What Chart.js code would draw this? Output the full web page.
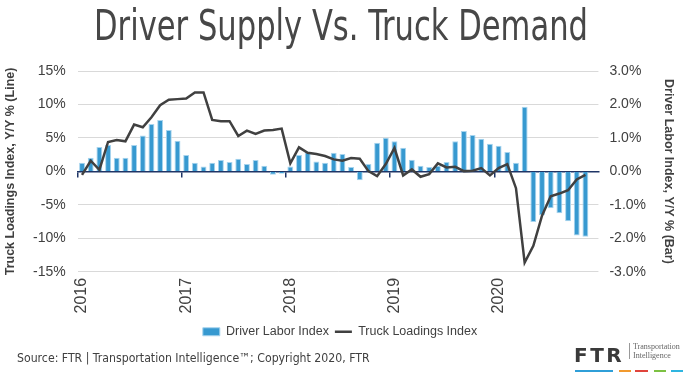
<!DOCTYPE html>
<html>
<head>
<meta charset="utf-8">
<script src="https://cdn.jsdelivr.net/npm/chart.js@4.4.0/dist/chart.umd.min.js"></script>
<style>
  html, body { margin: 0; padding: 0; background: #fff; }
  #wrap { position: relative; width: 688px; height: 375px; }
  #title { position: absolute; left: 0; top: 5px; width: 682px; text-align: center; font: 42px/42px "DejaVu Sans Condensed", "DejaVu Sans", sans-serif; color: #474747; transform: scaleX(0.81); transform-origin: 341px 0; white-space: nowrap; }
  #footer { position: absolute; left: 17px; top: 350px; font: 12.2px/16px "DejaVu Sans Condensed", "DejaVu Sans", sans-serif; color: #404040; white-space: nowrap; }
  #logo { position: absolute; left: 574px; top: 341px; width: 112px; height: 34px; }
  #logo .ftr { position: absolute; left: 0; top: 2px; font: bold 20px "DejaVu Sans", sans-serif; letter-spacing: 2.5px; color: #3a3a3a; }
  #logo .bar { position: absolute; left: 55px; top: 2px; width: 1px; height: 16px; background: #999; }
  #logo .tag { position: absolute; left: 59px; top: 1px; font: 8px/9px "Liberation Serif", serif; color: #666; }
  #logo .u { position: absolute; top: 29px; height: 2px; }
</style>
</head>
<body>
<div id="wrap">
  <canvas id="chart" width="688" height="375"></canvas>
  <div id="title">Driver Supply Vs. Truck Demand</div>
  <div id="footer">Source: FTR | Transportation Intelligence™; Copyright 2020, FTR</div>
  <div id="logo">
    <div class="ftr">FTR</div>
    <div class="bar"></div>
    <div class="tag">Transportation<br>Intelligence</div>
    <div class="u" style="left:1px;width:38px;background:#2f9fd8"></div>
    <div class="u" style="left:45px;width:12px;background:#f29a2e"></div>
    <div class="u" style="left:61px;width:13px;background:#e0443c"></div>
    <div class="u" style="left:80px;width:12px;background:#7cc142"></div>
    <div class="u" style="left:97px;width:12px;background:#2fb5e0"></div>
  </div>
</div>
<script>
const years = ['2016', '2017', '2018', '2019', '2020'];
const monthsPerYear = 12;

// Truck Loadings Index, Y/Y % (line, left axis), Jan 2016 - Nov 2020
const truckLoadings = [
  -0.5, 1.6, 0.25, 4.4, 4.7, 4.5, 7.0, 6.6, 8.1, 9.9, 10.7, 10.8,
  10.9, 11.8, 11.8, 7.7, 7.5, 7.5, 5.3, 6.1, 5.6, 6.1, 6.2, 6.4,
  1.2, 3.6, 2.8, 2.6, 2.3, 1.8, 1.6, 2.0, 1.9, 0.05, -0.7, 1.1,
  3.5, -0.6, 0.3, -0.8, -0.4, 1.2, 0.6, 0.7, 0.05, 0.1, 0.5, -0.6,
  0.5, 1.1, -2.5, -13.6, -11.1, -6.6, -3.7, -3.3, -2.8, -1.2, -0.5
];

// Driver Labor Index, Y/Y % (bar, right axis), Jan 2016 - Nov 2020
const driverLabor = [
  0.26, 0.41, 0.73, 0.79, 0.41, 0.41, 0.79, 1.07, 1.42, 1.54, 1.24, 0.92,
  0.49, 0.26, 0.15, 0.26, 0.34, 0.28, 0.38, 0.22, 0.34, 0.17, -0.10, -0.07,
  0.15, 0.49, 0.57, 0.30, 0.26, 0.56, 0.52, 0.13, -0.26, 0.22, 0.86, 1.01,
  0.90, 0.71, 0.35, 0.17, 0.13, 0.17, 0.28, 0.90, 1.21, 1.09, 0.98, 0.83,
  0.77, 0.58, 0.26, 1.93, -1.51, -1.31, -1.10, -1.25, -1.49, -1.91, -1.95
];

const leftTicks = [-15, -10, -5, 0, 5, 10, 15];
const rightTicks = [-3, -2, -1, 0, 1, 2, 3];

// one category per month
const labels = [];
years.forEach(y => {
  for (let m = 1; m <= monthsPerYear; m++) labels.push(y + '-' + String(m).padStart(2, '0'));
});

const navy = '#1f3566';
const textColor = '#404040';
const sans = '"Liberation Sans", Arial, sans-serif';

new Chart(document.getElementById('chart'), {
  data: {
    labels: labels,
    datasets: [
      {
        type: 'bar',
        label: 'Driver Labor Index',
        data: driverLabor,
        yAxisID: 'y1',
        order: 1,
        backgroundColor: '#3799d0',
        borderColor: '#a7d4ee',
        borderWidth: 1,
        pointStyle: 'rect',
        categoryPercentage: 1,
        barPercentage: 0.68
      },
      {
        type: 'line',
        label: 'Truck Loadings Index',
        data: truckLoadings,
        yAxisID: 'y',
        order: 0,
        borderColor: '#404040',
        backgroundColor: '#404040',
        borderWidth: 2.5,
        pointRadius: 0,
        pointStyle: 'line',
        tension: 0
      }
    ]
  },
  options: {
    responsive: false,
    animation: false,
    layout: { padding: { left: 0, right: 8, top: 71, bottom: 27 } },
    plugins: {
      legend: {
        position: 'bottom',
        labels: {
          color: textColor,
          font: { family: sans, size: 12.5 },
          usePointStyle: true,
          pointStyleWidth: 17,
          boxHeight: 8,
          padding: 6,
          sort: (a, b) => a.datasetIndex - b.datasetIndex
        }
      },
      tooltip: { enabled: false }
    },
    scales: {
      x: {
        type: 'category',
        offset: true,
        grid: { display: false, drawTicks: false },
        border: { display: false },
        ticks: {
          autoSkip: false,
          maxRotation: 90,
          minRotation: 90,
          padding: 6,
          color: textColor,
          font: { family: sans, size: 16 },
          callback: (v, i) => (i % monthsPerYear === 0 ? years[i / monthsPerYear] : '')
        }
      },
      x2: {
        type: 'category',
        position: { y: 0 },
        offset: true,
        grid: {
          offset: true,
          drawOnChartArea: false,
          drawTicks: true,
          tickLength: 5,
          lineWidth: 1.5,
          color: ctx => (ctx.index % monthsPerYear === 0 ? navy : 'rgba(0,0,0,0)')
        },
        border: { display: true, color: navy, width: 1.5 },
        ticks: { display: false, autoSkip: false }
      },
      y: {
        position: 'left',
        min: -15,
        max: 15,
        afterBuildTicks: s => { s.ticks = leftTicks.map(v => ({ value: v })); },
        grid: {
          drawTicks: false,
          color: ctx => (ctx.tick.value === 0 ? navy : '#d9d9d9'),
          lineWidth: 1
        },
        border: { display: false },
        ticks: {
          padding: 12,
          color: textColor,
          font: { family: sans, size: 14 },
          callback: v => v + '%'
        },
        title: {
          display: true,
          text: 'Truck Loadings Index, Y/Y % (Line)',
          color: textColor,
          font: { family: sans, size: 12.5, weight: 'bold' },
          padding: 3
        }
      },
      y1: {
        position: 'right',
        min: -3,
        max: 3,
        afterBuildTicks: s => { s.ticks = rightTicks.map(v => ({ value: v })); },
        grid: { drawOnChartArea: false, drawTicks: false },
        border: { display: false },
        ticks: {
          padding: 11,
          color: textColor,
          font: { family: sans, size: 14 },
          callback: v => v.toFixed(1) + '%'
        },
        title: {
          display: true,
          text: 'Driver Labor Index, Y/Y % (Bar)',
          color: textColor,
          font: { family: sans, size: 12.5, weight: 'bold' },
          padding: 4
        }
      }
    }
  }
});
</script>
</body>
</html>
